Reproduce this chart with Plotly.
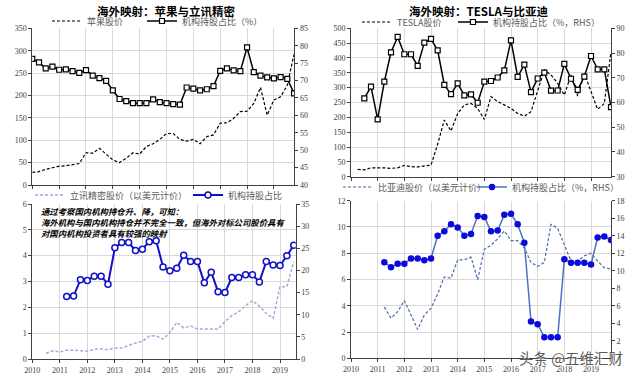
import plotly.graph_objects as go

W, H = 640, 376

# ---------------- data ----------------
apple_price = [28, 30, 35, 39, 42, 43, 45, 48, 72, 71, 82, 68, 56, 50, 60, 72, 69, 86, 92, 102,
               115, 115, 102, 98, 102, 92, 108, 112, 138, 139, 149, 164, 165, 182, 218, 156, 190, 197, 223, 292]
apple_hold = [76.2, 75.2, 73.5, 74.0, 73.1, 73.2, 72.7, 72.2, 73.0, 71.4, 70.7, 69.9, 67.2, 64.7, 64.1,
              63.5, 63.5, 63.5, 64.6, 63.8, 63.5, 63.2, 63.1, 68.0, 67.7, 67.2, 67.5, 68.4, 72.8, 73.5,
              72.9, 72.7, 79.5, 72.4, 71.4, 70.9, 70.6, 71.0, 70.5, 66.3]

tesla_price = [25, 23, 30, 31, 30, 28, 30, 38, 34, 33, 35, 39, 110, 191, 154, 213, 242, 247, 230, 193,
               270, 253, 242, 230, 213, 204, 219, 287, 360, 343, 315, 275, 343, 272, 348, 287, 227, 247, 420]
tesla_hold = [61.7, 66.4, 53.2, 68.4, 80.3, 86.5, 79.5, 79.5, 74.8, 84.2, 85.7, 81.1, 67.1, 63.4, 67.7,
              62.9, 63.3, 59.9, 68.4, 68.7, 70.1, 73.0, 85.1, 70.4, 75.3, 64.2, 69.7, 72.1, 64.8, 64.85,
              75.6, 69.6, 65.1, 70.5, 78.8, 73.4, 73.4, 58.1]

lux_price = [0.22, 0.32, 0.27, 0.34, 0.34, 0.32, 0.30, 0.37, 0.40, 0.36, 0.43, 0.43, 0.54, 0.62, 0.68,
             0.89, 0.90, 0.77, 1.02, 1.42, 1.20, 1.28, 1.16, 1.15, 1.16, 1.16, 1.45, 1.68, 1.83, 2.06,
             2.26, 2.05, 1.77, 1.57, 2.80, 2.80, 3.77]
lux_hold = [14.1, 14.2, 17.9, 17.7, 18.7, 18.7, 16.9, 25.1, 26.3, 26.3, 24.5, 24.8, 26.5, 26.7, 20.8,
            19.9, 20.5, 23.4, 22.0, 22.0, 17.2, 19.6, 15.2, 15.0, 18.4, 18.4, 19.0, 19.0, 17.4, 22.0,
            21.2, 21.1, 23.3, 25.7]

byd_price = [3.9, 3.05, 3.55, 4.4, 3.3, 2.2, 3.3, 3.8, 4.9, 6.2, 6.1, 7.5, 7.5, 7.7, 6.0, 8.3, 8.6,
             9.1, 9.7, 8.96, 8.96, 8.4, 7.3, 7.0, 7.3, 10.2, 9.9, 8.7, 7.4, 7.4, 7.8, 8.0, 7.4, 6.9, 6.8]
byd_hold = [10.96, 10.4, 10.8, 10.8, 11.4, 11.4, 11.2, 11.4, 14.0, 14.5, 15.3, 14.95, 14.0, 14.2, 16.25,
            16.15, 14.5, 14.6, 16.4, 16.5, 15.3, 13.2, 4.2, 3.9, 2.4, 2.4, 2.4, 11.3, 10.9, 10.9, 10.9,
            10.7, 13.8, 13.9, 13.5]

year_ticks = [2010, 2011, 2012, 2013, 2014, 2015, 2016, 2017, 2018, 2019]
year_labels = ["2010", "2011", "2012", "2013", "2014", "2015", "2016", "2017", "2018", "2019"]


def quarters(start, n):
    return [start + 0.25 * i for i in range(n)]


# ---------------- helpers ----------------
def dx(p0, p1):
    return [p0 / W, p1 / W]


def dy(top, bottom):
    return [1 - bottom / H, 1 - top / H]


SERIF = "Liberation Serif"
CJK = "Noto Sans CJK SC"
TICKF = dict(family=SERIF, size=8, color="#404040")
GRID = "#D9D9D9"
AX = "#404040"
DASH = "3px,2px"

fig = go.Figure()

# Top-left: Apple
fig.add_trace(go.Scatter(x=quarters(2010.0, len(apple_price)), y=apple_price, name="苹果股价",
                         mode="lines", line=dict(color="black", width=1.2, dash=DASH),
                         xaxis="x", yaxis="y", legend="legend"))
fig.add_trace(go.Scatter(x=quarters(2010.0, len(apple_hold)), y=apple_hold, name="机构持股占比（%）",
                         mode="lines+markers", line=dict(color="black", width=1.5),
                         marker=dict(symbol="square", size=5, color="white", line=dict(color="black", width=1.2)),
                         xaxis="x", yaxis="y2", legend="legend2"))

# Top-right: Tesla
fig.add_trace(go.Scatter(x=quarters(2010.25, len(tesla_price)), y=tesla_price, name="TESLA股价",
                         mode="lines", line=dict(color="black", width=1.2, dash=DASH),
                         xaxis="x2", yaxis="y3", legend="legend3"))
fig.add_trace(go.Scatter(x=quarters(2010.5, len(tesla_hold)), y=tesla_hold, name="机构持股占比（%，RHS）",
                         mode="lines+markers", line=dict(color="black", width=1.5),
                         marker=dict(symbol="square", size=5, color="white", line=dict(color="black", width=1.2)),
                         xaxis="x2", yaxis="y4", legend="legend4"))

# Bottom-left: Luxshare
fig.add_trace(go.Scatter(x=quarters(2010.5, len(lux_price)), y=lux_price, name="立讯精密股价（以美元计价）",
                         mode="lines", line=dict(color="#9AAED6", width=1.5, dash=DASH),
                         xaxis="x3", yaxis="y5", legend="legend5"))
fig.add_trace(go.Scatter(x=quarters(2011.25, len(lux_hold)), y=lux_hold, name="机构持股占比",
                         mode="lines+markers", line=dict(color="#1010C8", width=2),
                         marker=dict(symbol="circle", size=6, color="white", line=dict(color="#1010C8", width=1.5)),
                         xaxis="x3", yaxis="y6", legend="legend6"))

# Bottom-right: BYD
fig.add_trace(go.Scatter(x=quarters(2011.25, len(byd_price)), y=byd_price, name="比亚迪股价（以美元计价）",
                         mode="lines", line=dict(color="#4A6BB0", width=1.2, dash=DASH),
                         xaxis="x4", yaxis="y7", legend="legend7"))
fig.add_trace(go.Scatter(x=quarters(2011.25, len(byd_hold)), y=byd_hold, name="机构持股占比（%，RHS）",
                         mode="lines+markers", line=dict(color="#4A72C4", width=1.5),
                         marker=dict(symbol="circle", size=6.5, color="#0A0ADC"),
                         xaxis="x4", yaxis="y8", legend="legend8"))


def xax(domain, anchor, rng, labels):
    return dict(domain=domain, anchor=anchor, range=rng, tickmode="array", tickvals=year_ticks,
                ticktext=year_labels, showticklabels=labels, showgrid=True, gridcolor=GRID, gridwidth=1,
                showline=True, linecolor=AX, linewidth=1, ticks="outside", ticklen=3, tickcolor=AX,
                tickfont=TICKF, zeroline=False, fixedrange=True, automargin=False)


def yleft(domain, anchor, rng, dtick):
    return dict(domain=domain, anchor=anchor, range=rng, dtick=dtick, tick0=0, showgrid=True,
                gridcolor=GRID, gridwidth=1, showline=True, linecolor=AX, linewidth=1, ticks="outside",
                ticklen=3, tickcolor=AX, tickfont=TICKF, zeroline=False, fixedrange=True, automargin=False)


def yright(over, anchor, rng, dtick=None, tickvals=None):
    d = dict(overlaying=over, anchor=anchor, side="right", range=rng, showgrid=False, showline=True,
             linecolor=AX, linewidth=1, ticks="outside", ticklen=3, tickcolor=AX, tickfont=TICKF,
             zeroline=False, fixedrange=True, automargin=False)
    if tickvals is not None:
        d.update(tickmode="array", tickvals=tickvals)
    else:
        d.update(dtick=dtick)
    return d


TL_x, TL_y = dx(32.3, 294.3), dy(28.3, 185)
TR_x, TR_y = dx(351, 611), dy(28.3, 176.7)
BL_x, BL_y = dx(32.3, 295.7), dy(204, 359)
BR_x, BR_y = dx(351, 611), dy(200.7, 358.3)

LEGF = dict(family=CJK, size=9, color="#595959")


def leg(xp, yp):
    return dict(x=xp / W, y=1 - yp / H, xanchor="left", yanchor="middle", orientation="h",
                bgcolor="rgba(0,0,0,0)", borderwidth=0, font=LEGF, itemwidth=30)


fig.update_layout(
    width=W, height=H, margin=dict(l=0, r=0, t=0, b=0, autoexpand=False),
    paper_bgcolor="white", plot_bgcolor="white",
    font=dict(family=SERIF, size=9, color="#404040"),
    xaxis=xax(TL_x, "y", [2010, 2019.76], False),
    yaxis=yleft(TL_y, "x", [0, 350], 50),
    yaxis2=yright("y", "x", [40, 85], 5),
    xaxis2=xax(TR_x, "y3", [2010, 2019.75], False),
    yaxis3=yleft(TR_y, "x2", [0, 500], 50),
    yaxis4=yright("y3", "x2", [30, 90], 10),
    xaxis3=xax(BL_x, "y5", [2010, 2019.57], True),
    yaxis5=yleft(BL_y, "x3", [0, 6], 1),
    yaxis6=yright("y5", "x3", [0, 35], 5),
    xaxis4=xax(BR_x, "y7", [2010, 2019.75], True),
    yaxis7=yleft(BR_y, "x4", [0, 12], 2),
    yaxis8=yright("y7", "x4", [0, 18], tickvals=[2, 4, 6, 8, 10, 12, 14, 16, 18]),
    legend=leg(47, 21),
    legend2=leg(142, 21),
    legend3=leg(357, 22),
    legend4=leg(453, 22),
    legend5=leg(30, 195),
    legend6=leg(188, 195),
    legend7=leg(338, 187),
    legend8=leg(472, 187),
    showlegend=True,
)

anns = [
    dict(text="<b>海外映射：苹果与立讯精密</b>", x=166 / W, y=1 - 11 / H, xref="paper", yref="paper",
         showarrow=False, xanchor="center", yanchor="middle", font=dict(family=CJK, size=11.5, color="black")),
    dict(text="<b>海外映射：TESLA与比亚迪</b>", x=478 / W, y=1 - 11 / H, xref="paper", yref="paper",
         showarrow=False, xanchor="center", yanchor="middle", font=dict(family=CJK, size=11.5, color="black")),
    dict(text="<b><i>通过考察国内机构持仓升、降，可知：<br>海外机构与国内机构持仓并不完全一致，但海外对标公司股价具有<br>对国内机构投资者具有较强的映射</i></b>",
         x=39 / W, y=1 - 203 / H, xref="paper", yref="paper", showarrow=False, xanchor="left",
         yanchor="top", align="left", font=dict(family=CJK, size=8.4, color="black")),
    dict(text="头条 @五维汇财", x=571 / W, y=1 - 357 / H, xref="paper", yref="paper", showarrow=False,
         xanchor="center", yanchor="middle",
         font=dict(family=CJK, size=14.5, color="rgba(70,70,70,0.9)", shadow="1px 1px 1px white")),
]
fig.update_layout(annotations=anns)

fig.write_html("out.html", config={"displayModeBar": False},
               post_script="document.body.style.margin='0';")
